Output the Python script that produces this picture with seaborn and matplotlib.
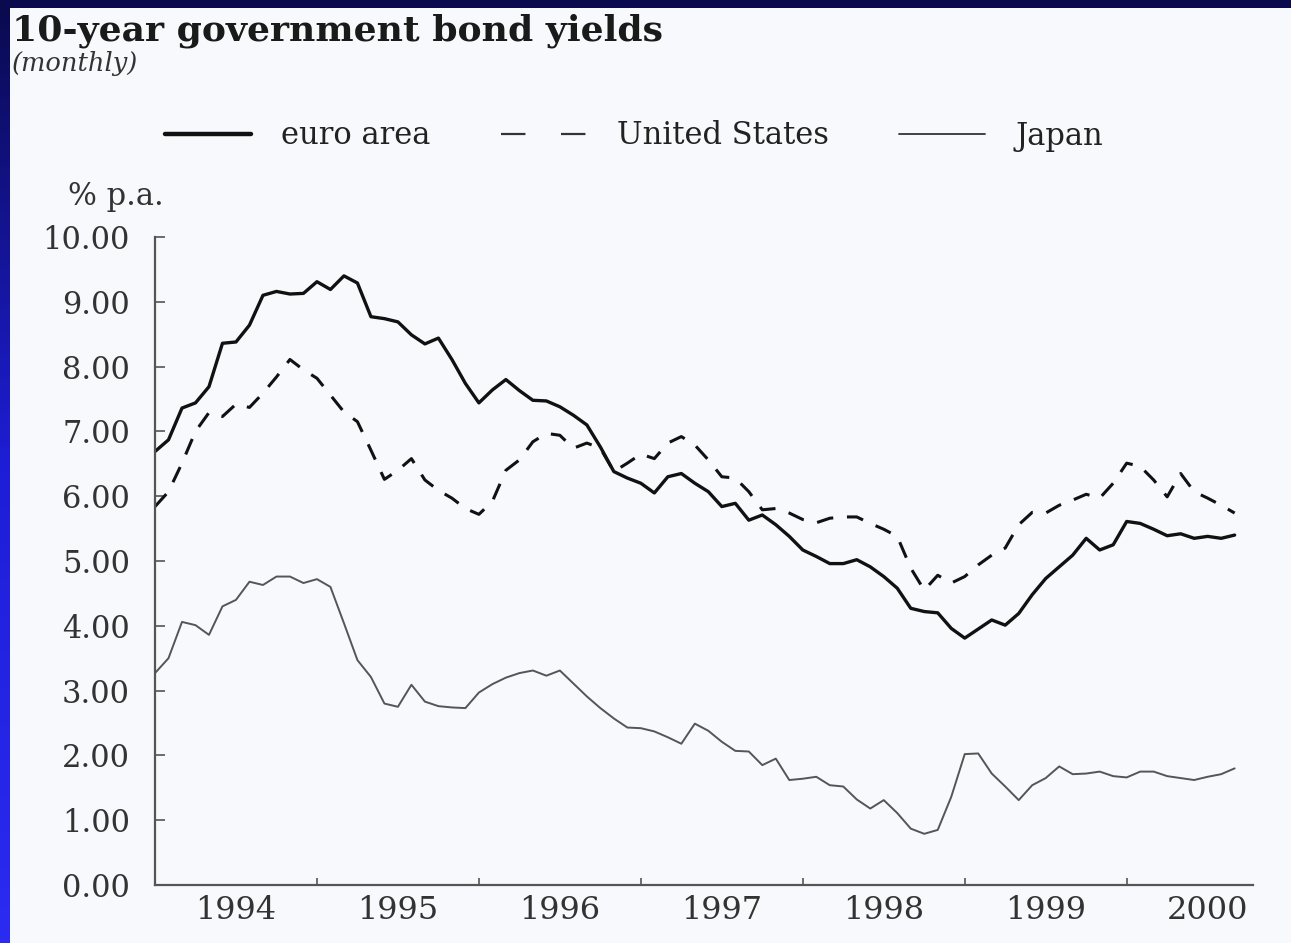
import numpy as np
import pandas as pd
import matplotlib
matplotlib.use("Agg")
import matplotlib.pyplot as plt
from matplotlib.lines import Line2D
from matplotlib.patches import Rectangle
from matplotlib.colors import LinearSegmentedColormap
import seaborn as sns

# monthly observations, Jan 1994 - Sep 2000 (% p.a.)
start_month = "1994-01"
euro_area = [
    6.69, 6.87, 7.36, 7.44, 7.69, 8.36, 8.38, 8.64, 9.10, 9.16,
    9.12, 9.13, 9.31, 9.19, 9.40, 9.29, 8.77, 8.74, 8.69, 8.49,
    8.35, 8.44, 8.11, 7.74, 7.44, 7.64, 7.80, 7.63, 7.48, 7.47,
    7.38, 7.25, 7.10, 6.76, 6.38, 6.28, 6.20, 6.05, 6.30, 6.35,
    6.20, 6.07, 5.84, 5.89, 5.63, 5.71, 5.56, 5.38, 5.17, 5.07,
    4.96, 4.96, 5.02, 4.91, 4.76, 4.58, 4.27, 4.22, 4.20, 3.96,
    3.81, 3.95, 4.09, 4.01, 4.19, 4.48, 4.73, 4.91, 5.09, 5.35,
    5.17, 5.25, 5.61, 5.58, 5.49, 5.39, 5.42, 5.35, 5.38, 5.35,
    5.40,
]
united_states = [
    5.84, 6.07, 6.51, 7.00, 7.29, 7.23, 7.42, 7.37, 7.59, 7.84,
    8.11, 7.95, 7.82, 7.56, 7.30, 7.15, 6.71, 6.26, 6.40, 6.58,
    6.25, 6.09, 5.97, 5.81, 5.72, 5.92, 6.40, 6.56, 6.84, 6.97,
    6.94, 6.74, 6.82, 6.74, 6.38, 6.51, 6.65, 6.58, 6.82, 6.92,
    6.79, 6.56, 6.30, 6.28, 6.07, 5.79, 5.81, 5.74, 5.64, 5.59,
    5.66, 5.68, 5.68, 5.58, 5.49, 5.38, 4.89, 4.55, 4.78, 4.66,
    4.76, 4.94, 5.09, 5.20, 5.56, 5.75, 5.74, 5.86, 5.94, 6.03,
    5.97, 6.20, 6.51, 6.46, 6.25, 5.99, 6.35, 6.07, 5.97, 5.86,
    5.74,
]
japan = [
    3.27, 3.50, 4.06, 4.01, 3.86, 4.30, 4.40, 4.68, 4.63, 4.76,
    4.76, 4.66, 4.72, 4.60, 4.04, 3.47, 3.21, 2.80, 2.75, 3.09,
    2.83, 2.76, 2.74, 2.73, 2.97, 3.10, 3.20, 3.27, 3.31, 3.23,
    3.31, 3.11, 2.91, 2.73, 2.57, 2.43, 2.42, 2.37, 2.28, 2.18,
    2.49, 2.38, 2.21, 2.07, 2.06, 1.85, 1.95, 1.62, 1.64, 1.67,
    1.54, 1.52, 1.32, 1.18, 1.31, 1.11, 0.87, 0.79, 0.85, 1.36,
    2.02, 2.03, 1.72, 1.52, 1.31, 1.54, 1.65, 1.83, 1.71, 1.72,
    1.75, 1.68, 1.66, 1.75, 1.75, 1.68, 1.65, 1.62, 1.67, 1.71,
    1.80,
]
year_labels = ["1994", "1995", "1996", "1997", "1998", "1999", "2000"]
y_ticks = [0, 1, 2, 3, 4, 5, 6, 7, 8, 9, 10]
series_names = ["euro area", "United States", "Japan"]

dates = pd.date_range(start_month, periods=len(euro_area), freq="MS")
t = dates.year + (dates.month - 1) / 12
df = pd.DataFrame({"t": t, "euro area": euro_area,
                   "United States": united_states, "Japan": japan})
long_df = df.melt(id_vars="t", var_name="series", value_name="yield")

sns.set_style("ticks")
plt.rcParams["font.family"] = ["DejaVu Serif"]

W, H = 1291, 943
fig = plt.figure(figsize=(W / 100, H / 100), dpi=100)

# slide frame: blue gradient with white page
bg = fig.add_axes([0, 0, 1, 1], zorder=-10)
frame_cmap = LinearSegmentedColormap.from_list("frame", ["#0a0a4e", "#1e1ed8", "#2b2bf2"])
bg.imshow(np.linspace(0, 1, 256).reshape(-1, 1), aspect="auto", cmap=frame_cmap,
          extent=[0, 1, 0, 1], origin="upper")
bg.add_patch(Rectangle((10 / W, 0), 1, 1 - 8 / H, facecolor="#f8f9fc",
                       edgecolor="none", transform=bg.transAxes))
bg.set_xlim(0, 1)
bg.set_ylim(0, 1)
bg.set_axis_off()

ax = fig.add_axes([155 / W, 58 / H, (1253 - 155) / W, (885 - 237) / H])
ax.patch.set_alpha(0)

palette = {"euro area": "#111111", "United States": "#111111", "Japan": "#555555"}
dashes = {"euro area": "", "United States": (5.5, 4.5), "Japan": ""}
sizes = {"euro area": 2.4, "United States": 2.2, "Japan": 1.4}
sns.lineplot(data=long_df, x="t", y="yield", hue="series", style="series",
             size="series", palette=palette, dashes=dashes, sizes=sizes,
             hue_order=series_names, style_order=series_names,
             size_order=series_names, legend=False, ax=ax)

ax.set_xlim(1994, 2000.78)
ax.set_ylim(0, 10)
ax.set_xlabel("")
ax.set_ylabel("")

ax.set_xticks(range(1995, 2001))
ax.set_xticks(np.arange(1994.5, 2001), minor=True)
ax.set_xticklabels(year_labels, minor=True)
ax.tick_params(axis="x", which="major", direction="in", length=5, width=1.2,
               color="#555555", labelbottom=False)
ax.tick_params(axis="x", which="minor", length=0, pad=7, labelsize=23,
               labelcolor="#333333")
ax.set_yticks(y_ticks)
ax.set_yticklabels([f"{v:.2f}" for v in y_ticks])
ax.tick_params(axis="y", direction="in", length=7, width=1.2, color="#555555",
               pad=18, labelsize=22, labelcolor="#333333")

sns.despine(ax=ax)
for side in ["left", "bottom"]:
    ax.spines[side].set_color("#555555")
    ax.spines[side].set_linewidth(1.6)

handles = [
    Line2D([], [], color="#111111", lw=3.2),
    Line2D([], [], color="#333333", lw=1.6, dashes=(11, 16)),
    Line2D([], [], color="#333333", lw=1.3),
]
fig.legend(handles, series_names, loc="center left",
           bbox_to_anchor=(165 / W, 1 - 136 / H), ncol=3, frameon=False,
           fontsize=22, labelcolor="#222222", handlelength=2.8,
           handletextpad=1.0, columnspacing=2.3, borderpad=0, borderaxespad=0)

fig.text(12 / W, 1 - 40 / H, "10-year government bond yields", fontsize=26,
         fontweight="bold", color="#1a1a1a", va="baseline")
fig.text(12 / W, 1 - 71 / H, "(monthly)", fontsize=18.5, style="italic",
         color="#333333", va="baseline")
fig.text(68 / W, 1 - 205 / H, "% p.a.", fontsize=22, color="#333333",
         va="baseline")

fig.savefig("out.png", dpi=100)
